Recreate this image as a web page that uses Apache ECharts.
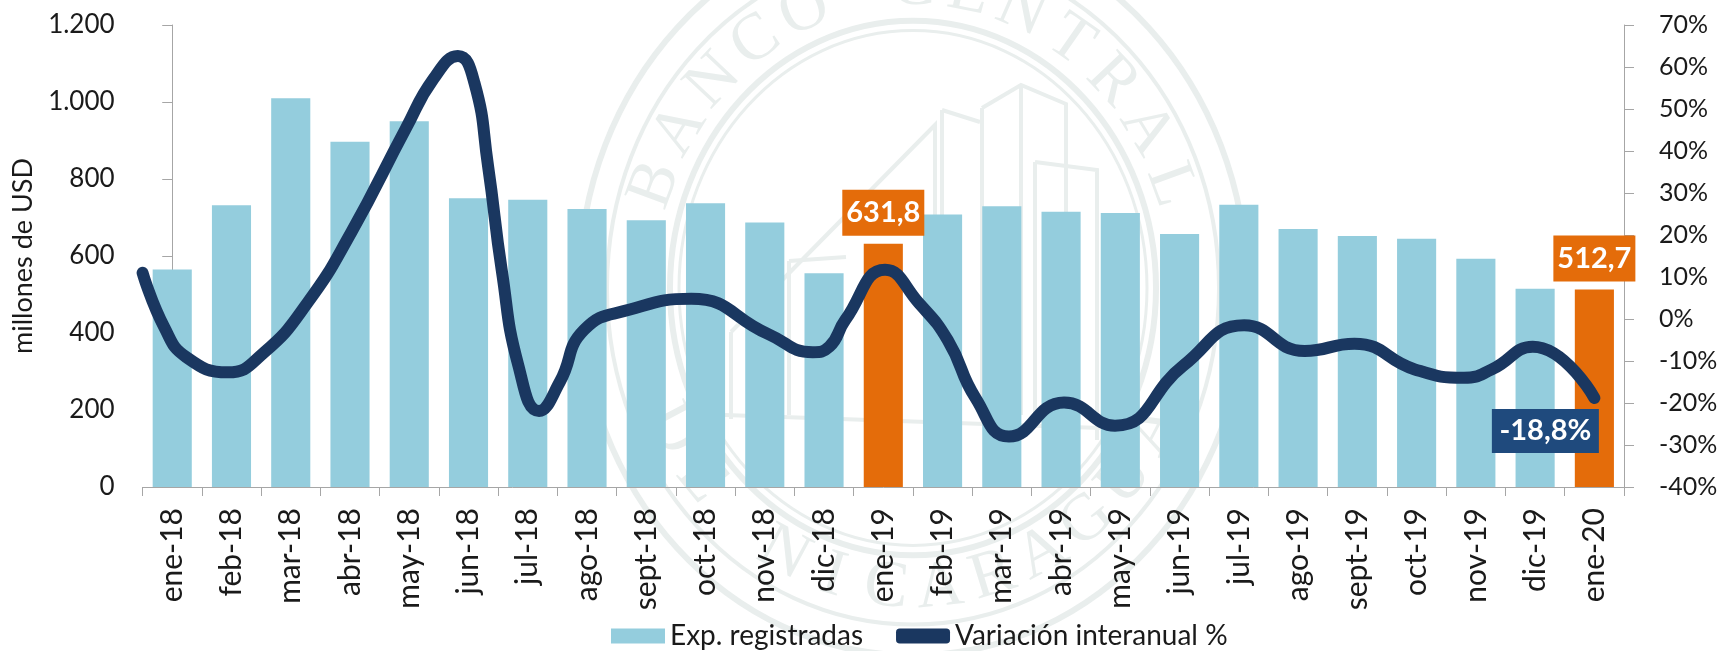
<!DOCTYPE html>
<html><head><meta charset="utf-8">
<style>html,body{margin:0;padding:0;background:#fff}#c{width:1721px;height:651px}</style>
<script src="https://cdn.jsdelivr.net/npm/echarts@6/dist/echarts.min.js"></script>
</head><body><div id="c"></div>
<script>
const categories = ['ene-18','feb-18','mar-18','abr-18','may-18','jun-18','jul-18','ago-18','sept-18','oct-18','nov-18','dic-18','ene-19','feb-19','mar-19','abr-19','may-19','jun-19','jul-19','ago-19','sept-19','oct-19','nov-19','dic-19','ene-20'];
const exportaciones = [565,732,1010,897,950,750,746,722,693,737,687,555,631.8,708,729,715,712,657,733,670,652,645,593,515,512.7];
// Curve: position along the month axis and % value
const variacionPos = [-0.5,-0.13,0.24,0.94,1.54,2.28,3.02,3.94,4.41,4.82,5.10,5.33,5.56,5.84,6.19,6.54,6.95,7.74,8.76,10.06,10.81,11.09,11.36,12.03,12.6,13.09,13.56,14.12,15.05,15.91,17.07,18.09,19.11,19.95,20.97,21.8,22.27,22.96,24];
const variacionVal = [11,-2.1,-9.1,-12.7,-8.1,3.8,20.6,45.3,57.2,62.6,56.2,36.4,11.7,-11,-21.9,-15,-2.6,2.3,4.8,-3.6,-7.9,-6.6,-0.2,11.7,3.8,-5.1,-18.9,-28,-19.9,-25.4,-11,-1.5,-7.6,-5.9,-12,-14,-12,-6.6,-18.8];
const highlighted = {12:'631,8',24:'512,7'};
const lastLabel = '-18,8%';

const FONT='Lato', WM='#e9eeed', AX='#a6a6a6', TXT='#1a1a1a';
const CX=913, CY=288, VS=1.1;
function ring(r,w){return {type:'ellipse',silent:true,shape:{cx:CX,cy:CY,rx:r,ry:r*VS},style:{fill:'none',stroke:WM,lineWidth:w}};}
function arcText(text,radius,a0,a1,flip){
  const out=[],n=text.length;
  for(let i=0;i<n;i++){
    if(text[i]===' ')continue;
    const a=(a0+(a1-a0)*i/(n-1))*Math.PI/180;
    const x=CX+radius*Math.sin(a), y=CY-VS*radius*Math.cos(a);
    out.push({type:'text',silent:true,x:x,y:y,rotation:flip?Math.PI-a:-a,
      style:{text:text[i],fill:WM,font:'66px "Liberation Serif"',align:'center',verticalAlign:'middle'}});
  }
  return out;
}
function pl(pts,w){return {type:'polyline',silent:true,shape:{points:pts},style:{fill:'none',stroke:WM,lineWidth:w||4}};}
const watermark=[ring(334,6),ring(306,4),ring(243,6),ring(234,3)]
 .concat(arcText('BANCO CENTRAL',274,-70,70,false))
 .concat(arcText('DE NICARAGUA',274,242,118,true))
 .concat([
  pl([[982,108],[1021,85],[1066,104],[1066,415]]),pl([[982,108],[982,415]]),pl([[1021,85],[1021,415]]),
  pl([[942,110],[980,122]]),pl([[942,110],[942,415]]),
  pl([[731,332],[935,125],[935,415]]),pl([[731,332],[731,419]]),
  pl([[1035,162],[1097,170],[1097,440]]),pl([[1035,162],[1035,415]]),
  pl([[725,415],[1100,428]]),pl([[789,261],[846,257]]),pl([[789,261],[789,415]])
 ]);

const chart=echarts.init(document.getElementById('c'),null,{renderer:'canvas'});
chart.setOption({
  animation:false,backgroundColor:'#fff',
  textStyle:{fontFamily:FONT},
  graphic:{elements:watermark},
  grid:{left:142.6,right:97,top:25,bottom:164,containLabel:false},
  legend:{left:606,top:617,itemWidth:54,itemHeight:15,itemGap:33,
    textStyle:{fontFamily:FONT,fontSize:28,color:TXT},
    data:[{name:'Exp. registradas',icon:'rect'},{name:'Variación interanual %',icon:'roundRect',itemStyle:{color:'#1a3760'}}]},
  xAxis:[
    {type:'category',data:categories,boundaryGap:true,
     axisLine:{lineStyle:{color:AX,width:1}},
     axisTick:{show:true,length:9,alignWithLabel:false,lineStyle:{color:AX}},
     axisLabel:{rotate:90,interval:0,margin:21,fontSize:30,color:TXT,fontFamily:FONT}},
    {type:'value',min:-0.5,max:24.5,show:false}
  ],
  yAxis:[
    {type:'value',min:0,max:1200,interval:200,name:'millones de USD',nameLocation:'middle',nameGap:97,nameRotate:90,
     nameTextStyle:{fontSize:27,color:TXT,fontFamily:FONT},
     splitLine:{show:false},axisLine:{show:true,lineStyle:{color:AX}},
     axisTick:{show:true,length:10,lineStyle:{color:AX}},
     axisLabel:{margin:28,fontSize:26,color:TXT,fontFamily:FONT,formatter:v=>v>=1000?String(v).replace(/(\d)(\d{3})$/,'$1.$2'):String(v)}},
    {type:'value',position:'right',min:-40,max:70,interval:10,
     splitLine:{show:false},axisLine:{show:true,lineStyle:{color:AX}},
     axisTick:{show:true,length:10,lineStyle:{color:AX}},
     axisLabel:{margin:35,fontSize:25,color:TXT,fontFamily:FONT,formatter:'{value}%',align:'left'}}
  ],
  series:[
    {name:'Exp. registradas',type:'bar',xAxisIndex:0,yAxisIndex:0,barWidth:'66%',z:2,
     itemStyle:{color:'#94cddd'},
     data:exportaciones.map((v,i)=>highlighted[i]?{value:v,itemStyle:{color:'#e46c0a'},
       label:{show:true,position:'top',distance:8,formatter:highlighted[i],color:'#fff',fontFamily:FONT,fontWeight:'bold',fontSize:29,
         backgroundColor:'#e46c0a',width:82,height:46,lineHeight:46,align:'center',padding:0}}:v)},
    {name:'Variación interanual %',type:'line',xAxisIndex:1,yAxisIndex:1,smooth:0.5,z:3,clip:true,
     symbol:'circle',symbolSize:0,showSymbol:true,showAllSymbol:true,
     lineStyle:{color:'#1a3760',width:12,cap:'round',join:'round'},itemStyle:{color:'#1a3760'},
     data:variacionPos.map((p,i)=>i===variacionPos.length-1?{value:[p,variacionVal[i]],
       label:{show:true,position:'bottom',distance:11,offset:[-49,0],formatter:lastLabel,color:'#fff',fontFamily:FONT,fontWeight:'bold',fontSize:29,
         backgroundColor:'#1f4a7d',width:107,height:44,lineHeight:44,align:'center'}}:[p,variacionVal[i]])}
  ]
});
</script></body></html>
